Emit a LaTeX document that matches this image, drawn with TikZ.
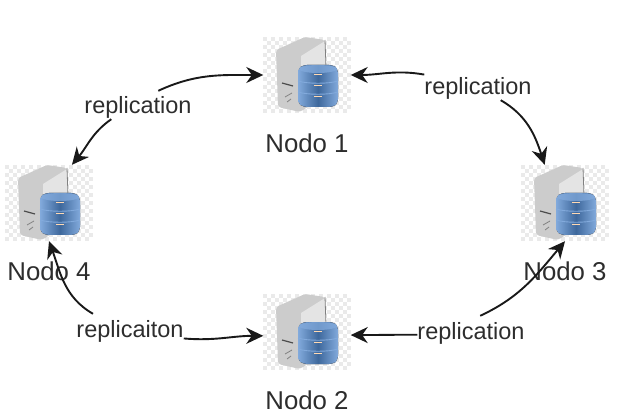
\documentclass[tikz,border=0pt]{standalone}
\usepackage{fontspec}
\setmainfont{Liberation Sans}
\usetikzlibrary{arrows.meta}
\definecolor{TowerGray}{RGB}{204,204,204}
\definecolor{TowerLight}{RGB}{228,228,228}
\definecolor{CheckGray}{RGB}{234,234,234}
\definecolor{DiskLight}{RGB}{130,170,220}
\definecolor{DiskDark}{RGB}{62,104,156}
\definecolor{LabelGray}{RGB}{45,45,45}

\tikzset{
  dbicon/.pic={
    % checker behind the server
    \foreach \i in {0,...,21}{
      \foreach \j in {0,...,18}{
        \pgfmathparse{mod(\i+\j,2)==0 ? "CheckGray" : "white"}
        \edef\cc{\pgfmathresult}
        \fill[\cc] (-44+4*\i,-38+4*\j) rectangle ++(4,4);
      }
    }
    % tower
    \fill[TowerGray,rounded corners=3pt] (-31,25)--(-2,38)--(18,35)--(19,-20)--(-7,-37)--(-29,-32)--cycle;
    \fill[TowerLight] (-6,19)--(18,34)--(19,5)--(-6,-5)--cycle;
    \draw[gray,line width=.8pt] (18,35)--(19,8);
    \draw[black!70,line width=1.2pt] (-25,-8)--(-14,-11);
    \draw[gray,line width=.8pt] (-22,-22)--(-15,-18) (-20,-27)--(-16,-24);
    % disks
    \fill[left color=DiskLight,right color=DiskLight,middle color=DiskDark,rounded corners=4pt]
      (-9,6)--(-4,10)--(26,10)--(31,6)--(31,-28)--(26,-32)--(-4,-32)--(-9,-28)--cycle;
    \fill[DiskLight,opacity=.75] (11,6) ellipse (19 and 4);
    \foreach \y in {-6,-17}{
      \draw[DiskLight,line width=.9pt] (-9,\y) .. controls (0,\y-3) and (22,\y-3) .. (31,\y);
    }
    \foreach \y in {0,-11,-22}{
      \fill[orange!30] (7,\y) rectangle ++(8,1.2);
    }
  },
  server/.style={minimum width=87pt,minimum height=76pt,inner sep=0pt},
  nodename/.style={font=\fontsize{25.8}{28}\selectfont,text=LabelGray,inner sep=0pt},
  replabel/.style={font=\fontsize{23.5}{26}\selectfont,text=LabelGray,inner sep=0pt,
    minimum height=28pt,text height=22pt,text depth=4pt},
  conn/.style={-{Stealth[length=17pt,width=16pt]},line width=1.9pt,black!90}
}

\begin{document}
\begin{tikzpicture}[x=1pt,y=1pt]
  \useasboundingbox (0,0) rectangle (617,415);
  \foreach \nm/\x/\y in {1/307/340,2/307/83,3/565/212,4/49/212}{
    \pic at (\x,\y) {dbicon};
    \node[server] (n\nm) at (\x,\y) {};
  }
  \node[nodename] (name1) at (307,272) {Nodo 1};
  \node[nodename] (name2) at (307,15) {Nodo 2};
  \node[nodename] (name3) at (565,144) {Nodo 3};
  \node[nodename] (name4) at (49,144) {Nodo 4};

  \node[replabel] (r4) at (138,310) {replication};
  \node[replabel] (r1) at (478,329) {replication};
  \node[replabel] (r2) at (471,85) {replication};
  \node[replabel] (r3) at (130,87) {replicaiton};

  \draw[conn] (r4.35) to[out=25,in=180] (n1.west);
  \draw[conn] (r4.208) to[out=215,in=50] (n4.59);
  \draw[conn] (r1.168) to[out=170,in=0] (n1.east);
  \draw[conn] (r1.-32) to[out=-30,in=108] (n3.118);
  \draw[conn] (r2.185) to[out=180,in=0] (n2.-4);
  \draw[conn] (r2.57) to[out=25,in=-130] (n3.south);
  \draw[conn] (r3.159) to[out=150,in=-70] (n4.south);
  \draw[conn] (r3.-11) to[out=-5,in=180] (n2.185);
\end{tikzpicture}
\end{document}
